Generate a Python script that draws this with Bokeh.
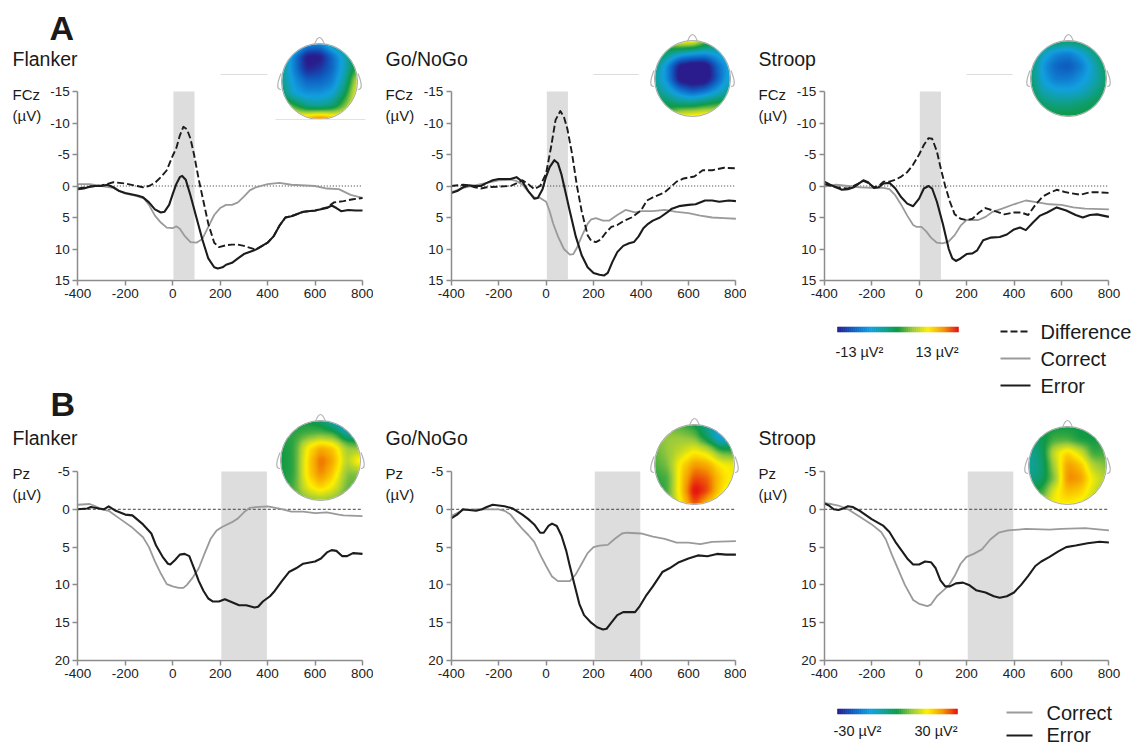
import numpy as np
from bokeh.plotting import figure
from bokeh.models import LinearAxis, FixedTicker, Range1d
from bokeh.layouts import row, column
from bokeh.core.properties import value
from bokeh.embed import file_html
from bokeh.resources import INLINE

# ---------- data: (time ms, amplitude uV) ----------
flanker_fcz_correct = [(-400,-.3),(-350,-.3),(-300,0),(-250,.3),(-225,.8),(-200,1.2),(-150,1.6),(-120,2),(-100,3),(-75,4.7),(-50,5.8),(-25,6.6),(0,6.7),(15,6.4),(30,6.8),(50,7.9),(75,8.9),(100,9),(125,8.4),(150,6.5),(175,4.6),(200,3.5),(225,3),(250,3),(275,2.6),(300,1.7),(325,.7),(350,.2),(400,-.3),(450,-.5),(500,-.2),(600,0),(650,.4),(700,.5),(750,1.4),(800,1.9)]
flanker_fcz_error = [(-400,.5),(-375,.4),(-350,.1),(-325,0),(-300,0),(-275,-.2),(-250,.2),(-225,.8),(-200,1.1),(-150,1.5),(-125,1.8),(-100,2.6),(-75,3.7),(-50,4.2),(-35,4.1),(-15,3),(0,1.3),(15,-.3),(30,-1.4),(40,-1.6),(55,-1),(75,1.5),(100,5),(125,8.5),(150,11.5),(175,12.9),(190,13.1),(210,12.9),(225,12.5),(250,12.2),(275,11.5),(300,10.8),(350,10.1),(400,9),(425,8),(450,6.3),(475,5),(500,4.8),(550,4.1),(600,3.9),(650,3.5),(670,3.1),(690,3.5),(710,4),(740,3.8),(770,3.9),(800,3.9)]
flanker_fcz_diff = [(-400,.4),(-350,.1),(-300,-.1),(-250,-.6),(-200,-.4),(-150,0),(-125,.2),(-100,0),(-75,-.5),(-50,-1.4),(-25,-2.5),(0,-4.8),(15,-6),(30,-8),(45,-9.4),(60,-9),(75,-7.5),(90,-5),(110,-1),(130,2.5),(150,6),(175,9),(195,9.7),(225,9.4),(250,9.3),(275,9.3),(300,9.5),(350,10.1),(400,9),(425,8),(450,6.3),(475,5),(500,4.8),(550,4.1),(600,3.9),(650,3.4),(680,2.6),(720,2.4),(760,2.1),(800,1.9)]

gonogo_fcz_correct = [(-400,1),(-350,.3),(-300,-.1),(-250,-.5),(-200,-.9),(-150,-1),(-125,-.8),(-100,-.2),(-75,.9),(-50,1.8),(-25,1.9),(0,2.5),(15,4),(30,6),(50,8),(75,10),(100,10.9),(115,10.8),(130,9.8),(150,8),(175,6),(190,5.3),(210,5.1),(240,5.5),(265,5.5),(300,4.6),(335,3.8),(375,4.2),(400,4),(450,4),(500,3.8),(550,4.1),(600,4.3),(650,4.7),(700,5),(750,5.1),(800,5.2)]
gonogo_fcz_error = [(-400,1.1),(-375,.8),(-350,.2),(-325,-.1),(-300,0),(-275,0),(-250,-.5),(-225,-.9),(-200,-1.1),(-150,-1.1),(-125,-1.4),(-100,-.7),(-75,.8),(-50,2),(-35,1.9),(-15,.5),(0,-1.5),(15,-3),(35,-4.1),(50,-3.6),(65,-1.8),(85,1.5),(100,4),(125,8),(150,11),(175,12.9),(200,13.8),(225,14.1),(245,14.2),(260,13.8),(280,12),(300,10.5),(325,9.5),(350,9.1),(370,8.9),(390,8),(410,6.7),(430,6),(450,5.5),(480,5),(510,4.2),(530,3.6),(560,3.2),(600,3),(630,2.9),(670,2.3),(700,2.3),(730,2.5),(770,2.3),(800,2.4)]
gonogo_fcz_diff = [(-400,0),(-350,-.2),(-325,-.1),(-300,.2),(-275,.4),(-250,.2),(-200,.1),(-150,0),(-125,-.4),(-100,-.9),(-75,-.3),(-50,.5),(-25,0),(0,-2),(20,-6),(40,-10.5),(60,-11.9),(75,-11),(90,-9),(110,-5),(130,0),(150,4),(175,7.8),(190,8.7),(210,8.9),(230,8.5),(250,7.5),(275,6.5),(300,6.2),(325,5.6),(360,5),(400,3.9),(425,2.3),(450,1.8),(500,1),(530,0),(550,-.7),(580,-1.2),(625,-1.5),(660,-2.5),(700,-2.5),(750,-2.9),(800,-2.8)]

stroop_fcz_correct = [(-400,.1),(-350,-.2),(-300,0),(-250,.2),(-200,.3),(-150,.3),(-125,.5),(-100,1.5),(-75,3),(-50,4.7),(-25,6.2),(-10,6.5),(10,6.5),(30,7.2),(50,8.2),(75,9),(100,9.1),(125,8.8),(150,7.8),(175,6.3),(200,5.4),(250,5.4),(280,4.9),(310,4.1),(350,3.6),(400,2.9),(450,2.3),(500,2.6),(550,2.9),(600,3),(650,3.4),(700,3.6),(800,3.7)]
stroop_fcz_error = [(-400,-.7),(-375,-.2),(-350,.2),(-325,.6),(-300,.5),(-275,.2),(-250,-.5),(-235,-.9),(-215,-.6),(-190,.3),(-170,.2),(-150,-.4),(-125,-.5),(-100,.4),(-75,1.8),(-50,2.8),(-25,3.2),(0,2),(20,.4),(40,0),(55,.4),(75,2.5),(100,6),(125,10),(140,11.5),(155,11.9),(175,11.5),(200,10.8),(225,10.7),(245,10.2),(270,8.6),(300,8.2),(340,8.1),(370,7.7),(400,6.9),(425,6.6),(450,7),(480,5.8),(510,4.7),(540,4.2),(580,3.4),(620,3.9),(660,4.6),(690,5),(720,4.6),(750,4.5),(800,4.9)]
stroop_fcz_diff = [(-400,-.3),(-350,.2),(-300,.4),(-250,-.5),(-235,-.8),(-215,-.5),(-190,.2),(-170,0),(-150,-.7),(-125,-.7),(-100,-1),(-75,-1.5),(-50,-2.2),(-25,-3.4),(0,-5),(20,-6.5),(40,-7.6),(55,-7.5),(75,-5.5),(90,-3),(110,0),(130,2.5),(150,4.5),(175,5.2),(200,5.4),(225,5.2),(250,4.3),(280,3.5),(320,4),(360,4.5),(400,4.2),(430,4.2),(460,4.6),(490,3),(520,1.7),(550,1.1),(580,.6),(620,1),(680,1.4),(720,1),(760,1),(800,1.1)]

flanker_pz_correct = [(-400,-.6),(-350,-.7),(-325,-.4),(-300,0),(-270,.2),(-225,1.2),(-175,2.3),(-125,3.7),(-100,5),(-75,6.9),(-50,8.5),(-25,9.9),(0,10.2),(25,10.4),(45,10.4),(60,10),(85,9),(110,7.8),(135,5.8),(160,3.9),(185,2.8),(210,2.3),(250,1.7),(275,1.2),(300,.4),(325,-.2),(350,-.3),(400,-.4),(450,-.1),(500,.3),(550,.3),(600,.5),(650,.4),(700,.7),(720,.8),(800,.9)]
flanker_pz_error = [(-400,0),(-360,-.1),(-345,-.3),(-310,-.1),(-290,0),(-270,-.4),(-240,.2),(-200,.7),(-170,.8),(-125,2),(-90,3.2),(-70,4.8),(-40,6.4),(-20,7.2),(-10,7.3),(10,6.7),(30,6),(50,5.9),(70,6.2),(90,7.8),(110,9.5),(130,10.8),(150,11.8),(170,12.2),(195,12.2),(220,11.9),(250,12.3),(280,12.7),(310,12.7),(345,13),(360,12.9),(380,12.2),(410,11.5),(430,10.8),(460,9.5),(490,8.3),(520,7.8),(550,7.2),(600,6.9),(625,6.5),(650,5.7),(670,5.4),(690,5.5),(715,6.2),(735,6.2),(760,5.8),(800,5.9)]

gonogo_pz_correct = [(-400,.9),(-375,.5),(-350,.1),(-300,0),(-250,0),(-200,0),(-175,.2),(-150,.7),(-125,1.7),(-100,2.6),(-75,3.4),(-50,4.3),(-25,6),(0,7.5),(25,8.9),(50,9.5),(75,9.5),(100,9.5),(125,8.6),(150,7.2),(175,5.8),(200,5),(225,4.8),(260,4.7),(290,3.9),(320,3.2),(340,3.1),(400,3.2),(450,3.6),(500,3.9),(550,4.4),(600,4.4),(650,4.6),(700,4.3),(800,4.2)]
gonogo_pz_error = [(-400,1.2),(-375,.7),(-350,0),(-325,.1),(-295,.2),(-270,0),(-250,-.3),(-225,-.6),(-175,-.4),(-140,-.1),(-125,.2),(-100,.7),(-75,1.3),(-50,2),(-25,3.1),(-10,3.1),(10,2.2),(25,1.9),(45,2.2),(65,3.5),(85,5.5),(100,7.5),(120,10),(140,12.5),(160,14),(190,15),(215,15.6),(240,15.9),(255,15.8),(275,15),(300,14),(325,13.6),(375,13.6),(395,12.8),(420,11.5),(450,10.2),(490,8.3),(520,7.8),(560,7),(600,6.5),(640,6.1),(680,6.2),(720,5.9),(760,6),(800,6)]

stroop_pz_correct = [(-400,-.8),(-370,-.7),(-340,-.5),(-300,0),(-250,1),(-200,2),(-160,3),(-140,4),(-115,6),(-90,7.8),(-60,10),(-25,12),(0,12.5),(35,12.8),(50,12.6),(75,11.5),(100,10.8),(125,10.1),(150,8.8),(175,7.2),(200,6.3),(230,5.9),(265,5.3),(300,4),(335,3.1),(375,2.8),(450,2.6),(550,2.7),(600,2.6),(700,2.5),(800,2.8)]
stroop_pz_error = [(-400,-.8),(-380,-.5),(-360,0),(-340,.1),(-320,-.1),(-300,-.4),(-280,-.3),(-250,.2),(-200,1.3),(-150,2.2),(-125,3),(-100,4.3),(-75,5.4),(-50,6.5),(-25,7.3),(0,7.3),(25,6.9),(50,7),(70,7.8),(90,9.4),(110,10.2),(130,10.2),(155,9.8),(185,9.7),(210,10),(240,10.7),(280,11),(315,11.5),(340,11.7),(370,11.5),(400,11),(430,10),(460,8.8),(490,7.5),(515,6.9),(550,6.3),(585,5.6),(620,5),(660,4.8),(710,4.5),(760,4.3),(800,4.4)]

x_ticks = [-400, -200, 0, 200, 400, 600, 800]
fcz_ticks = [-15, -10, -5, 0, 5, 10, 15]
pz_ticks = [-5, 0, 5, 10, 15, 20]
window_fcz = (3, 92)
window_pz = (205, 397)

# scalp maps: coarse values read by eye, rows top to bottom
topo_flanker_fcz = [[.1,-.1,-.5,-.55,-.25,0,.1],[-.15,-.6,-1.05,-1.05,-.7,-.35,.05],[-.2,-.6,-.98,-.9,-.7,-.35,.1],[-.2,-.5,-.7,-.7,-.6,-.25,.4],[-.1,-.42,-.5,-.5,-.42,-.05,.5],[.35,.1,-.17,-.22,-.12,.2,.55],[.6,.6,.75,.9,.75,.6,.55]]
topo_gonogo_fcz = [[.2,.3,.55,.55,.2,0,-.1],[.1,-.15,-.35,-.45,-.5,-.4,-.2],[-.15,-.55,-1.05,-1.15,-1.15,-.7,-.4],[-.25,-.55,-1.1,-1.2,-1.15,-.75,-.35],[-.15,-.35,-.6,-.75,-.65,-.45,-.2],[0,-.05,-.15,-.15,-.05,.05,.05],[.1,.15,.5,.55,.6,.5,.3]]
topo_stroop_fcz = [[0,0,-.05,-.1,-.05,.05,.1],[-.05,-.35,-.55,-.6,-.45,-.2,0],[-.12,-.5,-.72,-.78,-.62,-.35,-.05],[-.12,-.45,-.62,-.62,-.5,-.35,-.1],[-.05,-.32,-.4,-.42,-.38,-.22,-.05],[0,-.12,-.18,-.18,-.12,-.05,0],[0,0,0,0,0,0,0]]
topo_flanker_pz = [[0,0,0,-.1,-.35,-.7,-.6],[.05,.05,.1,.15,.1,-.25,-.25],[0,.05,.5,.7,.6,.25,.2],[0,.05,.55,.85,.7,.3,.6],[0,.05,.55,.8,.6,.2,.2],[0,.1,.45,.6,.45,.15,.1],[.05,.1,.2,.25,.2,.1,.05]]
topo_gonogo_pz = [[.15,.15,.1,0,-.25,-.5,-.35],[.2,.25,.25,.2,-.1,-.5,-.25],[.15,.25,.35,.5,.4,.1,.05],[.1,.2,.55,.75,.7,.5,.45],[.05,.1,.6,.9,.85,.6,.45],[0,.1,.6,1.05,.9,.55,.35],[.1,.15,.5,.9,.6,.4,.3]]
topo_stroop_pz = [[0,0,0,0,0,0,0],[-.15,-.05,.1,.1,0,0,.05],[-.25,-.1,.4,.6,.4,.05,.1],[-.25,-.15,.3,.75,.65,.3,.2],[-.2,-.1,.2,.8,.75,.45,.3],[0,.05,.45,.65,.6,.4,.2],[.2,.3,.5,.5,.45,.3,.2]]

map_stops = [-1, -.75, -.45, -.2, 0, .25, .5, .75, 1]
map_colors = ["#2a1c8c", "#0f5cc0", "#12a0e0", "#10a08c", "#0f9a45", "#9ccb3c", "#fff000", "#f59a00", "#e61010"]

FONT = "Liberation Sans"
DARK = "#222222"
AXIS = "#8c8c8c"
L_ERR = "#1c1c1c"
L_COR = "#9a9a9a"


def rgb(c):
    return [int(c[i:i + 2], 16) for i in (1, 3, 5)]


def cmap(v):
    table = np.array([rgb(c) for c in map_colors], dtype=float)
    return np.stack([np.interp(v, map_stops, table[:, i]) for i in range(3)], axis=-1)


def upsample(grid, n=150):
    g = np.array(grid, dtype=float)
    pos = np.linspace(0, g.shape[0] - 1, n)
    tmp = np.stack([np.interp(pos, np.arange(g.shape[1]), r) for r in g])
    out = np.stack([np.interp(pos, np.arange(g.shape[0]), tmp[:, j]) for j in range(n)], axis=1)
    for _ in range(2):
        pad = np.pad(out, 5, mode="edge")
        kernel = np.ones(11) / 11
        pad = np.apply_along_axis(lambda m: np.convolve(m, kernel, mode="same"), 0, pad)
        pad = np.apply_along_axis(lambda m: np.convolve(m, kernel, mode="same"), 1, pad)
        out = pad[5:-5, 5:-5]
    return out


def panel(left, top, width, height, ax_left, ax_right, ax_top, ax_bottom, ymin, ymax, ticks):
    k = (ax_right - ax_left) / 1200.0
    ky = (ax_bottom - ax_top) / float(ymax - ymin)
    x0 = -400 - (ax_left - left) / k
    x1 = x0 + width / k
    ytop = ymin - (ax_top - top) / ky
    ybot = ytop + height / ky
    p = figure(width=width, height=height, output_backend="svg", toolbar_location=None,
               x_range=Range1d(x0, x1), y_range=Range1d(ybot, ytop),
               x_axis_location=None, y_axis_location=None, min_border=0,
               min_border_left=0, min_border_right=0, min_border_top=0, min_border_bottom=0)
    p.outline_line_color = None
    p.grid.visible = False
    p.extra_x_ranges["px"] = Range1d(left, left + width)
    p.extra_y_ranges["px"] = Range1d(-(top + height), -top)
    xa = LinearAxis(ticker=FixedTicker(ticks=x_ticks), fixed_location=ymax, bounds=(-400, 800))
    ya = LinearAxis(ticker=FixedTicker(ticks=ticks), fixed_location=-400, bounds=(ymin, ymax))
    xa.major_label_overrides = {t: str(t) for t in x_ticks}
    ya.major_label_overrides = {t: str(t) for t in ticks}
    for a in (xa, ya):
        a.axis_line_color = AXIS
        a.axis_line_width = 1.5
        a.major_tick_line_color = AXIS
        a.major_tick_line_width = 1.5
        a.major_tick_in = 0
        a.major_tick_out = 5
        a.minor_tick_line_color = None
        a.major_label_text_font = FONT
        a.major_label_text_font_size = "13.5px"
        a.major_label_text_color = DARK
        a.major_label_standoff = 3
    p.add_layout(xa, "below")
    p.add_layout(ya, "left")
    return p


def txt(p, x, y, s, size, bold=False, align="left"):
    p.text([x], [-y], text=[s], x_range_name="px", y_range_name="px", text_font=value(FONT),
           text_font_size=f"{size}px", text_color="#1a1a1a", text_align=align, text_baseline="middle",
           text_font_style="bold" if bold else "normal")


def rule(p, x0, x1, y, color, width=2, dash="solid"):
    p.line([x0, x1], [-y, -y], x_range_name="px", y_range_name="px",
           line_color=color, line_width=width, line_dash=dash)


def head(p, cx, cy, r, grid):
    n = 150
    v = upsample(grid, n)[::-1]
    c = cmap(v)
    yy, xx = np.mgrid[-1:1:n * 1j, -1:1:n * 1j]
    alpha = np.clip((1 - np.sqrt(xx ** 2 + yy ** 2)) * n / 2 + .5, 0, 1) * 255
    im = np.zeros((n, n), dtype=np.uint32)
    view = im.view(dtype=np.uint8).reshape((n, n, 4))
    view[..., :3] = c.astype(np.uint8)
    view[..., 3] = alpha.astype(np.uint8)
    kw = dict(x_range_name="px", y_range_name="px", line_color="#b4b4b4", line_width=1.2)
    p.quadratic([cx - 5], [-(cy - r + 1)], [cx + 5], [-(cy - r + 1)], [cx], [-(cy - r - 13)], **kw)
    p.quadratic([cx - r - .5], [-(cy - 8)], [cx - r - .5], [-(cy + 8)], [cx - r - 7], [-(cy + 8)], **kw)
    p.quadratic([cx + r + .5], [-(cy - 8)], [cx + r + .5], [-(cy + 8)], [cx + r + 7], [-(cy + 8)], **kw)
    p.image_rgba(image=[im], x=[cx - r], y=[-(cy + r)], dw=[2 * r], dh=[2 * r], x_range_name="px", y_range_name="px")
    p.scatter([cx], [-cy], size=2 * r, marker="circle", fill_color=None, line_color="#a8a8a8", line_width=1,
              x_range_name="px", y_range_name="px")


def colorbar(p, x0, x1, y):
    steps = np.linspace(-1, 1, 61)
    px = np.linspace(x0, x1, 61)
    cols = ["#%02x%02x%02x" % tuple(int(a) for a in cmap(s)) for s in (steps[:-1] + steps[1:]) / 2]
    p.quad(left=px[:-1], right=px[1:], top=[-(y - 2.5)] * 60, bottom=[-(y + 2.5)] * 60, fill_color=cols,
           line_color=cols, line_width=.6, x_range_name="px", y_range_name="px")


def traces(p, window, ymin, ymax, zero_dash, zero_color, zero_w, series):
    p.quad(left=[window[0]], right=[window[1]], top=[ymin], bottom=[ymax - .2 * (ymax - ymin) / 30],
           fill_color="#dddddd", line_color=None)
    p.line(x_ticks[0::6], [0, 0], line_color=zero_color, line_width=zero_w, line_dash=zero_dash)
    for data, color, width, dash in series:
        t, v = zip(*data)
        p.line(list(t), list(v), line_color=color, line_width=width, line_dash=dash, line_join="round")


W = [373, 373, 385]
LEFTS = [0, 373, 746]
SPLIT = [385, 385, 397]
BOTTOM = 746
AX_L = [77.3, 450.7, 823.7]
panels_top = []
panels_bot = []
for i in range(3):
    panels_top.append(panel(LEFTS[i], 0, W[i], SPLIT[i], AX_L[i], AX_L[i] + 284.7, 91, 280, -15, 15, fcz_ticks))
    panels_bot.append(panel(LEFTS[i], SPLIT[i], W[i], BOTTOM - SPLIT[i], AX_L[i], AX_L[i] + 284.7, 471, 660, -5, 20, pz_ticks))

top_data = [(flanker_fcz_correct, flanker_fcz_diff, flanker_fcz_error),
            (gonogo_fcz_correct, gonogo_fcz_diff, gonogo_fcz_error),
            (stroop_fcz_correct, stroop_fcz_diff, stroop_fcz_error)]
bot_data = [(flanker_pz_correct, flanker_pz_error), (gonogo_pz_correct, gonogo_pz_error), (stroop_pz_correct, stroop_pz_error)]
titles = ["Flanker", "Go/NoGo", "Stroop"]
title_x = [12, 385, 758]
head_top = [(319, 81, 38, topo_flanker_fcz), (692, 78, 38, topo_gonogo_fcz), (1068, 78, 38, topo_stroop_fcz)]
head_bot = [(320, 460, 40, topo_flanker_pz), (694, 464, 40, topo_gonogo_pz), (1067, 465, 39, topo_stroop_pz)]
stub_x = [(220, 267), (593, 638), (966, 1012)]

for i in range(3):
    pt, pb = panels_top[i], panels_bot[i]
    c, d, e = top_data[i]
    traces(pt, window_fcz, -15, 15, "1 2", "#333333", 1, [(c, L_COR, 1.8, "solid"), (d, L_ERR, 1.9, "7 3"), (e, L_ERR, 2.1, "solid")])
    c, e = bot_data[i]
    traces(pb, window_pz, -5, 20, "3 2", "#444444", 1, [(c, L_COR, 1.8, "solid"), (e, L_ERR, 2.1, "solid")])
    txt(pt, title_x[i], 58, titles[i], 19.5)
    txt(pt, title_x[i], 94, "FCz", 15)
    txt(pt, title_x[i], 115, "(µV)", 15)
    txt(pb, title_x[i], 437, titles[i], 19.5)
    txt(pb, title_x[i], 473, "Pz", 15)
    txt(pb, title_x[i], 494, "(µV)", 15)
    rule(pt, stub_x[i][0], stub_x[i][1], 74, "#dddddd", 1)
    head(pt, *head_top[i])
    head(pb, *head_bot[i])

rule(panels_top[0], 275, 365, 119, "#e2e2e2", 1)
txt(panels_top[0], 49, 27, "A", 34, bold=True)
txt(panels_bot[0], 50, 403, "B", 34, bold=True)

pa, pb = panels_top[2], panels_bot[2]
colorbar(pa, 837, 958, 329)
txt(pa, 835, 351, "-13 µV²", 14.5)
txt(pa, 915, 351, "13 µV²", 14.5)
rule(pa, 1000, 1030, 331, L_ERR, 2, "7 3")
rule(pa, 1000, 1030, 358, L_COR, 2)
rule(pa, 1000, 1030, 385, L_ERR, 2)
txt(pa, 1040, 331, "Difference", 20)
txt(pa, 1040, 358, "Correct", 20)
txt(pa, 1040, 385, "Error", 20)

colorbar(pb, 837, 957, 711)
txt(pb, 833, 730, "-30 µV²", 14.5)
txt(pb, 914, 730, "30 µV²", 14.5)
rule(pb, 1006, 1032, 712, L_COR, 2)
rule(pb, 1006, 1032, 735, L_ERR, 2)
txt(pb, 1046, 712, "Correct", 20)
txt(pb, 1046, 734, "Error", 20)

page = row(*[column(panels_top[i], panels_bot[i]) for i in range(3)])
open("out.html", "w").write(file_html(page, INLINE))
